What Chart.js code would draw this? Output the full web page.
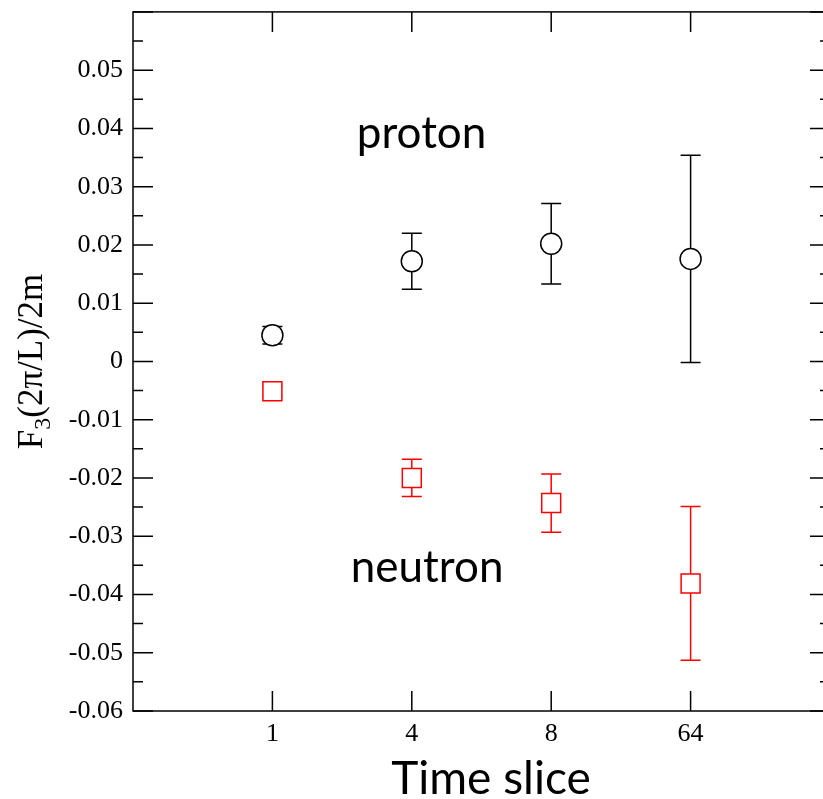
<!DOCTYPE html>
<html>
<head>
<meta charset="utf-8">
<script src="https://cdn.jsdelivr.net/npm/chart.js@4/dist/chart.umd.min.js"></script>
<style>
  html, body { margin: 0; padding: 0; background: #fff; overflow: hidden; }
  #wrap { width: 850px; height: 799px; overflow: hidden; }
  #c { display: block; margin-top: -3px; }
</style>
</head>
<body>
<div id="wrap"><canvas id="c" width="850" height="802"></canvas></div>
<script>
// ---- data ----
const categories = ['1', '4', '8', '64'];
const protonValues = [0.0045, 0.0172, 0.0202, 0.0176];
const protonErrors = [0.0015, 0.0048, 0.0069, 0.0178];
const neutronValues = [-0.0051, -0.0200, -0.0243, -0.0381];
const neutronErrors = [0.0009, 0.0032, 0.0050, 0.0132];
const yLabelText = ['F', '3', '(2\u03c0/L)/2m'];
const xTitle = 'Time slice';
const annotations = [{ text: 'proton', x: 2.07, y: 0.0367 }, { text: 'neutron', x: 2.11, y: -0.0379 }];

const toPoints = (vals) => vals.map((v, i) => ({ x: i + 1, y: v }));

const errorBarPlugin = {
  id: 'errorBars',
  beforeDatasetsDraw(chart) {
    const ctx = chart.ctx;
    const xs = chart.scales.x, ys = chart.scales.y;
    chart.data.datasets.forEach((ds) => {
      ctx.save();
      ctx.strokeStyle = ds.borderColor;
      ctx.lineWidth = 1.5;
      ds.data.forEach((p, i) => {
        const e = ds.errors[i];
        const px = xs.getPixelForValue(p.x);
        const top = ys.getPixelForValue(p.y + e);
        const bot = ys.getPixelForValue(p.y - e);
        ctx.beginPath();
        ctx.moveTo(px, top); ctx.lineTo(px, bot);
        ctx.moveTo(px - 10, top); ctx.lineTo(px + 10, top);
        ctx.moveTo(px - 10, bot); ctx.lineTo(px + 10, bot);
        ctx.stroke();
      });
      ctx.restore();
    });
  }
};

const framePlugin = {
  id: 'frame',
  afterDraw(chart) {
    const ctx = chart.ctx;
    const a = chart.chartArea;
    const xs = chart.scales.x, ys = chart.scales.y;
    ctx.save();
    ctx.strokeStyle = '#000';
    ctx.lineWidth = 1.5;
    ctx.strokeRect(a.left, a.top, a.right - a.left, a.bottom - a.top);
    ctx.beginPath();
    ys.ticks.forEach((t) => {
      const y = ys.getPixelForValue(t.value);
      const major = Math.round(t.value * 1000) % 10 === 0;
      const len = major ? 20 : 10;
      ctx.moveTo(a.left, y); ctx.lineTo(a.left + len, y);
      ctx.moveTo(a.right, y); ctx.lineTo(a.right - len, y);
    });
    categories.forEach((c, i) => {
      const x = xs.getPixelForValue(i + 1);
      ctx.moveTo(x, a.bottom); ctx.lineTo(x, a.bottom - 20);
      ctx.moveTo(x, a.top); ctx.lineTo(x, a.top + 20);
    });
    ctx.stroke();

    // annotations
    ctx.fillStyle = '#000';
    ctx.textAlign = 'center';
    ctx.textBaseline = 'alphabetic';
    ctx.font = '44px Lato';
    annotations.forEach((an) => {
      ctx.fillText(an.text, xs.getPixelForValue(an.x), ys.getPixelForValue(an.y));
    });

    // x title
    ctx.font = '46px Lato';
    ctx.fillText(xTitle, 491, a.bottom + 83);

    // y title with subscript
    ctx.save();
    ctx.translate(42, (a.top + a.bottom) / 2);
    ctx.rotate(-Math.PI / 2);
    const big = '35px "Liberation Serif"', small = '24px "Liberation Serif"';
    ctx.font = big; const w1 = ctx.measureText(yLabelText[0]).width;
    const w3 = ctx.measureText(yLabelText[2]).width;
    ctx.font = small; const w2 = ctx.measureText(yLabelText[1]).width;
    let x0 = -(w1 + w2 + w3) / 2;
    ctx.textAlign = 'left';
    ctx.font = big; ctx.fillText(yLabelText[0], x0, 0);
    ctx.font = small; ctx.fillText(yLabelText[1], x0 + w1, 8);
    ctx.font = big; ctx.fillText(yLabelText[2], x0 + w1 + w2, 0);
    ctx.restore();
    ctx.restore();
  }
};

new Chart(document.getElementById('c'), {
  type: 'scatter',
  data: {
    datasets: [
      {
        label: 'proton',
        data: toPoints(protonValues),
        errors: protonErrors,
        borderColor: '#000000',
        backgroundColor: '#ffffff',
        pointStyle: 'circle',
        pointRadius: 10.5,
        pointHoverRadius: 10.5,
        pointBorderWidth: 1.5
      },
      {
        label: 'neutron',
        data: toPoints(neutronValues),
        errors: neutronErrors,
        borderColor: '#ff0000',
        backgroundColor: '#ffffff',
        pointStyle: 'rect',
        pointRadius: 13.4,
        pointHoverRadius: 13.4,
        pointBorderWidth: 1.5
      }
    ]
  },
  options: {
    responsive: false,
    animation: false,
    events: [],
    layout: { padding: { left: 0, top: 11, right: 20, bottom: 0 } },
    plugins: { legend: { display: false }, tooltip: { enabled: false } },
    scales: {
      x: {
        type: 'linear',
        min: 0,
        max: 5,
        afterFit: (s) => { s.height = 88; s.paddingLeft = 0; s.paddingRight = 0; },
        grid: { display: false, drawTicks: false },
        border: { display: false },
        ticks: {
          stepSize: 1,
          padding: 8,
          color: '#000',
          font: { family: 'Liberation Serif', size: 26 },
          callback: (v) => (v >= 1 && v <= categories.length ? categories[v - 1] : '')
        }
      },
      y: {
        min: -0.06,
        max: 0.06,
        afterFit: (s) => { s.width = 133; s.paddingTop = 0; s.paddingBottom = 0; },
        grid: { display: false, drawTicks: false },
        border: { display: false },
        ticks: {
          stepSize: 0.005,
          padding: 10,
          autoSkip: false,
          color: '#000',
          font: { family: 'Liberation Serif', size: 26 },
          callback: (v) => {
            const m = Math.round(v * 1000);
            if (m % 10 !== 0 || m === 60) return '';
            if (m === 0) return '0';
            return (m / 1000).toFixed(2);
          }
        }
      }
    }
  },
  plugins: [errorBarPlugin, framePlugin]
});
</script>
</body>
</html>
